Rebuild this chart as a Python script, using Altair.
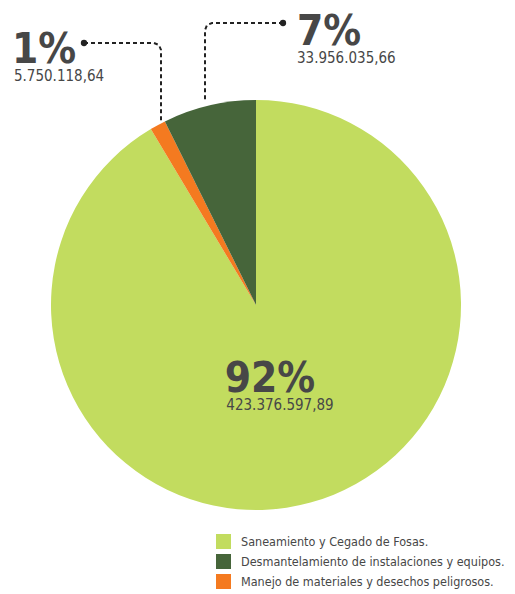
import altair as alt
import pandas as pd

# ---- data ----
categories = [
    "Saneamiento y Cegado de  Fosas.",
    "Manejo de materiales y desechos peligrosos.",
    "Desmantelamiento de instalaciones y equipos.",
]
values = [423376597.89, 5750118.64, 33956035.66]
pct_labels = ["92%", "1%", "7%"]
value_labels = ["423.376.597,89", "5.750.118,64", "33.956.035,66"]
legend_order = [
    "Saneamiento y Cegado de  Fosas.",
    "Desmantelamiento de instalaciones y equipos.",
    "Manejo de materiales y desechos peligrosos.",
]
colors = ["#c2dc5f", "#46653a", "#f47a20"]

W, H = 499, 586
FONT = "Liberation Sans Narrow, DejaVu Sans Condensed, DejaVu Sans, sans-serif"
TXT = "#474747"

pie_df = pd.DataFrame({"cat": categories, "val": values, "ord": [0, 1, 2]})

color_scale = alt.Scale(domain=legend_order, range=colors)

pie = alt.Chart(pie_df).mark_arc(outerRadius=205, stroke=None).encode(
    theta=alt.Theta("val:Q", stack=True),
    order=alt.Order("ord:Q"),
    color=alt.Color(
        "cat:N",
        scale=color_scale,
        legend=alt.Legend(
            title=None,
            orient="none",
            legendX=208,
            legendY=526,
            symbolType="square",
            symbolSize=225,
            symbolStrokeWidth=0,
            symbolOpacity=1,
            labelFont=FONT,
            labelFontSize=12.5,
            labelColor=TXT,
            labelOffset=10,
            labelLimit=400,
            rowPadding=5,
        ),
    ),
    x=alt.value(248),
    y=alt.value(297),
)

# label layout (pixel positions for annotations)
layout = {
    "92%": dict(px=262, py=384, vx=272, vy=402, align="center"),
    "1%": dict(px=4, py=55, vx=6, vy=73, align="left"),
    "7%": dict(px=289, py=37, vx=289, vy=55, align="left"),
}

layers = [pie]
for p, v in zip(pct_labels, value_labels):
    L = layout[p]
    d = pd.DataFrame({"t": [p]})
    layers.append(
        alt.Chart(d).mark_text(
            font=FONT, fontSize=42, fontWeight="bold", color=TXT,
            align=L["align"], baseline="alphabetic",
        ).encode(text="t:N", x=alt.value(L["px"]), y=alt.value(L["py"]))
    )
    d2 = pd.DataFrame({"t": [v]})
    layers.append(
        alt.Chart(d2).mark_text(
            font=FONT, fontSize=15, color=TXT,
            align=L["align"], baseline="alphabetic",
        ).encode(text="t:N", x=alt.value(L["vx"]), y=alt.value(L["vy"]))
    )

# leader lines
leader_df = pd.DataFrame({
    "g": ["a"] * 5 + ["b"] * 5,
    "i": list(range(5)) * 2,
    "x": [76, 146, 151, 153, 153, 275, 204, 199, 197, 197],
    "y": [35, 35, 37, 42, 115, 15, 15, 17, 22, 94],
})
leaders = alt.Chart(leader_df).mark_line(
    color="#222222", strokeWidth=2, strokeDash=[4, 3]
).encode(
    x=alt.X("x:Q", scale=None),
    y=alt.Y("y:Q", scale=None),
    detail="g:N",
    order="i:Q",
)
dots = alt.Chart(leader_df[leader_df.i == 0]).mark_point(
    filled=True, color="#222222", size=40, opacity=1
).encode(
    x=alt.X("x:Q", scale=None),
    y=alt.Y("y:Q", scale=None),
)
layers += [leaders, dots]

chart = alt.layer(*layers).properties(
    width=W, height=H, autosize=alt.AutoSizeParams(type="none"), padding=0
).configure_view(stroke=None)

chart.save("out.html", embed_options={"renderer": "svg", "actions": False})
